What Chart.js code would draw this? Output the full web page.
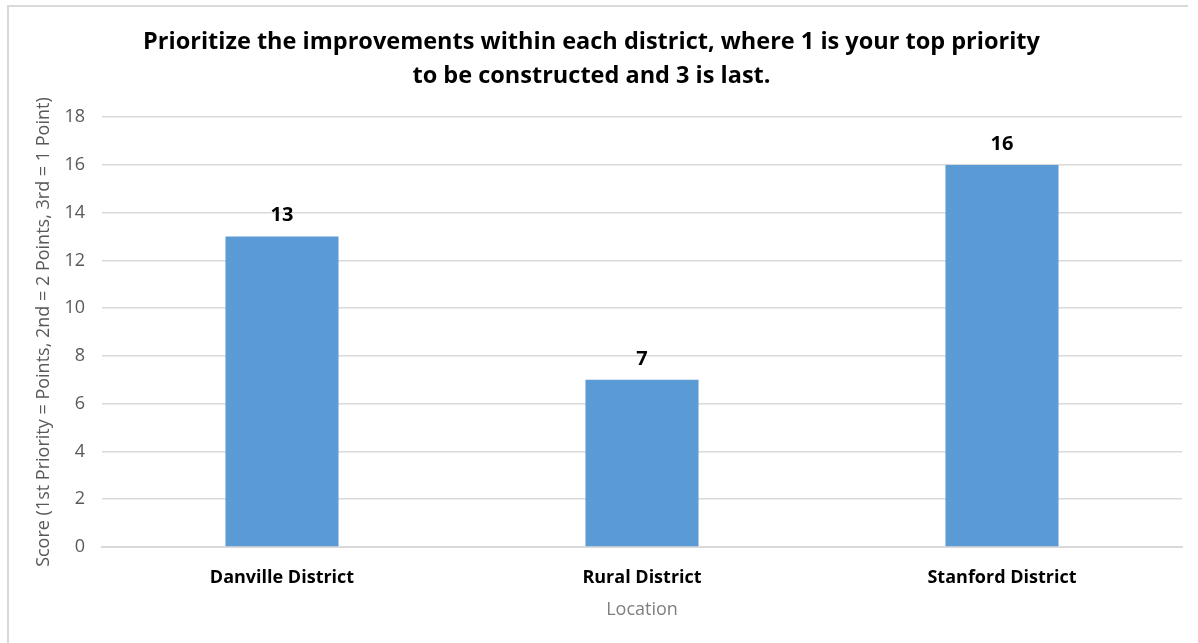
<!DOCTYPE html>
<html>
<head>
<meta charset="utf-8">
<title>District priorities</title>
<script src="https://cdn.jsdelivr.net/npm/chart.js@4.4.1/dist/chart.umd.min.js"></script>
<style>
  html, body { margin: 0; padding: 0; background: #fff; }
  #frame {
    position: absolute; left: 7px; top: 5px; width: 1181px; height: 650px;
    border-top: 2px solid #d9d9d9; border-left: 2px solid #d9d9d9;
    box-sizing: border-box;
  }
  #wrap { position: absolute; left: 0; top: 0; width: 1198px; height: 643px; }
</style>
</head>
<body>
<div id="frame"></div>
<div id="wrap"><canvas id="scoreChart"></canvas></div>
<script>
// Survey scores per district
const districts = ['Danville District', 'Rural District', 'Stanford District'];
const scores = [13, 7, 16];
const yTicks = [0, 2, 4, 6, 8, 10, 12, 14, 16, 18];

const FONT = "'Open Sans', 'Noto Sans', sans-serif";

// Draws the bold value above each bar
const valueLabels = {
    id: 'valueLabels',
    afterDatasetsDraw(chart) {
        const ctx = chart.ctx;
        const meta = chart.getDatasetMeta(0);
        ctx.save();
        ctx.font = 'bold 20px ' + FONT;
        ctx.fillStyle = '#000';
        ctx.textAlign = 'center';
        ctx.textBaseline = 'middle';
        meta.data.forEach(function(bar, i) {
            ctx.fillText(String(scores[i]), bar.x, bar.y - 21);
        });
        ctx.restore();
    }
};

const ctx = document.getElementById('scoreChart').getContext('2d');

new Chart(ctx, {
    type: 'bar',
    data: {
        labels: districts,
        datasets: [{
            label: 'Score',
            data: scores,
            backgroundColor: '#5b9bd5',
            barPercentage: 0.314,
            categoryPercentage: 1.0
        }]
    },
    options: {
        responsive: true,
        maintainAspectRatio: false,
        animation: false,
        layout: { padding: { left: 1, right: 16, top: 16, bottom: 22 } },
        plugins: {
            legend: { display: false },
            tooltip: { enabled: false },
            title: {
                display: true,
                text: ['Prioritize the improvements within each district, where 1 is your top priority',
                       'to be constructed and 3 is last.'],
                font: { family: FONT, size: 23.5, weight: 'bold', lineHeight: 1.45 },
                color: '#000',
                padding: { top: 9, bottom: 24 }
            }
        },
        scales: {
            x: {
                grid: { display: false, drawTicks: false },
                border: { color: '#d9d9d9', width: 2 },
                ticks: {
                    font: { family: FONT, size: 18, weight: 'bold' },
                    color: '#000',
                    padding: 20
                },
                title: {
                    display: true,
                    text: 'Location',
                    font: { family: FONT, size: 18 },
                    color: '#7f7f7f',
                    padding: { top: 0, bottom: 0 }
                },
                afterFit(axis) { axis.height = 74; }
            },
            y: {
                min: 0,
                max: 18,
                afterBuildTicks(axis) {
                    axis.ticks = yTicks.map(v => ({ value: v }));
                },
                grid: { color: '#d9d9d9', lineWidth: 1.5, drawTicks: false },
                border: { display: false },
                ticks: {
                    font: { family: FONT, size: 18 },
                    color: '#595959',
                    padding: 17
                },
                title: {
                    display: true,
                    text: 'Score (1st Priority = Points, 2nd = 2 Points, 3rd = 1 Point)',
                    font: { family: FONT, size: 18 },
                    color: '#595959',
                    padding: { top: 32, bottom: 0 }
                },
                afterFit(axis) { axis.width = 101; }
            }
        }
    },
    plugins: [valueLabels]
});
</script>
</body>
</html>
